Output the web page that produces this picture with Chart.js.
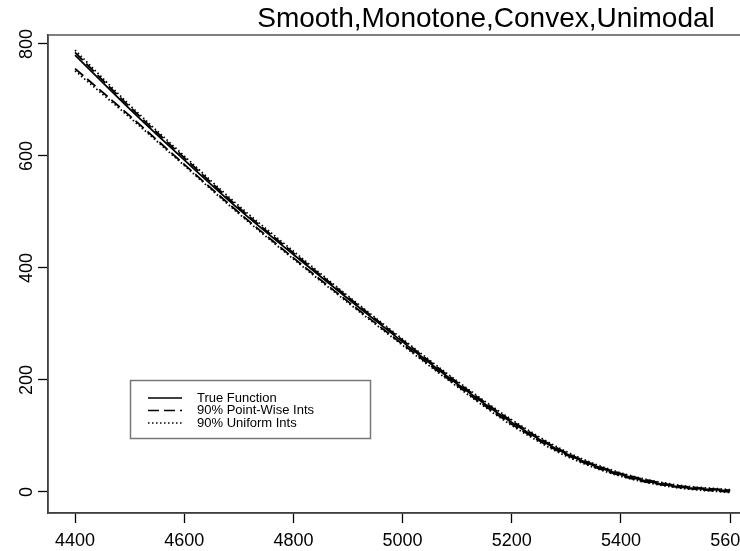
<!DOCTYPE html>
<html>
<head>
<meta charset="utf-8">
<script src="https://cdn.jsdelivr.net/npm/chart.js@4/dist/chart.umd.min.js"></script>
<style>
  html, body { margin: 0; padding: 0; background: #fff; }
  #wrap { width: 740px; height: 551px; position: relative; overflow: hidden; }
</style>
</head>
<body>
<div id="wrap"><canvas id="myChart" width="740" height="551"></canvas></div>
<script>
const chartTitle = "Smooth,Monotone,Convex,Unimodal";
const xValues = [4400, 4500, 4600, 4700, 4800, 4900, 5000, 5100, 5200, 5300, 5400, 5500, 5600];
const trueFunction = [780, 684, 593, 505, 424, 345, 268, 193, 124, 68, 31, 10, 2];
const pointWiseLower = [756, 672, 585, 499, 418, 340, 264, 190, 121, 66, 29, 9, 0];
const pointWiseUpper = [785, 688, 597, 508, 427, 348, 271, 196, 127, 70, 33, 12, 3];
const uniformLower = [752, 669, 583, 497, 416, 338, 262, 188, 119, 64, 28, 8, -1];
const uniformUpper = [789, 691, 600, 511, 430, 350, 273, 198, 129, 72, 34, 13, 4];
const xTicks = [4400, 4600, 4800, 5000, 5200, 5400, 5600];
const yTicks = [0, 200, 400, 600, 800];
const legendLabels = ["True Function", "90% Point-Wise Ints", "90% Uniform Ints"];

const fontFamily = "'Liberation Sans', Arial, sans-serif";
const solid = [];
const dashed = [11, 5];
const dotted = [1.5, 2.5];

function toPoints(values){
  return values.map((v, i) => ({x: xValues[i], y: v}));
}

function lineSet(label, values, dash){
  return {
    label: label,
    data: toPoints(values),
    borderColor: "#000",
    borderWidth: 1.8,
    borderDash: dash,
    pointRadius: 0,
    fill: false,
    cubicInterpolationMode: "monotone"
  };
}

const boxAndTextPlugin = {
  id: "boxAndText",
  afterDraw(chart){
    const ctx = chart.ctx;
    const area = chart.chartArea;
    const yScale = chart.scales.y;

    ctx.save();
    // plot frame
    ctx.strokeStyle = "#555";
    ctx.lineWidth = 1.5;
    ctx.strokeRect(area.left, area.top, area.right - area.left + 20, area.bottom - area.top);

    // title
    ctx.fillStyle = "#000";
    ctx.font = `28px ${fontFamily}`;
    ctx.textAlign = "center";
    ctx.textBaseline = "alphabetic";
    ctx.fillText(chartTitle, 486, 27);

    // y tick labels, rotated like R
    ctx.font = `18px ${fontFamily}`;
    yScale.ticks.forEach(t => {
      const py = yScale.getPixelForValue(t.value);
      ctx.save();
      ctx.translate(32, py);
      ctx.rotate(-Math.PI / 2);
      ctx.textAlign = "center";
      ctx.textBaseline = "alphabetic";
      ctx.fillText(String(t.value), 0, 0);
      ctx.restore();
    });

    // legend
    ctx.strokeStyle = "#777";
    ctx.lineWidth = 1.5;
    ctx.strokeRect(130.5, 380.5, 240, 58);
    const dashes = [solid, dashed, dotted];
    ctx.font = `13px ${fontFamily}`;
    ctx.textAlign = "left";
    ctx.textBaseline = "middle";
    legendLabels.forEach((label, i) => {
      const ly = 398 + i * 12.5;
      ctx.strokeStyle = "#000";
      ctx.lineWidth = 1.3;
      ctx.setLineDash(dashes[i]);
      ctx.beginPath();
      ctx.moveTo(148, ly);
      ctx.lineTo(182, ly);
      ctx.stroke();
      ctx.setLineDash([]);
      ctx.fillStyle = "#000";
      ctx.fillText(label, 197, ly);
    });
    ctx.restore();
  }
};

new Chart(document.getElementById("myChart"), {
  type: "line",
  data: {
    datasets: [
      lineSet(legendLabels[0], trueFunction, solid),
      lineSet(legendLabels[1], pointWiseLower, dashed),
      lineSet(legendLabels[1], pointWiseUpper, dashed),
      lineSet(legendLabels[2], uniformLower, dotted),
      lineSet(legendLabels[2], uniformUpper, dotted)
    ]
  },
  options: {
    responsive: false,
    animation: false,
    layout: { padding: { top: 35, right: 0, left: 0, bottom: 0 } },
    plugins: {
      legend: { display: false },
      title: { display: false },
      tooltip: { enabled: false }
    },
    scales: {
      x: {
        type: "linear",
        min: 4350.5,
        max: 5618,
        afterBuildTicks: scale => { scale.ticks = xTicks.map(v => ({value: v})); },
        afterFit: scale => { scale.height = 38; scale.paddingLeft = 0; scale.paddingRight = 0; },
        grid: { drawOnChartArea: false, tickLength: 10, color: "#000", tickWidth: 1.3 },
        border: { display: true, color: "#000", width: 1.5 },
        ticks: {
          autoSkip: false,
          maxRotation: 0,
          padding: 7,
          color: "#000",
          font: { family: fontFamily, size: 18 },
          callback: v => String(v)
        }
      },
      y: {
        type: "linear",
        min: -37.5,
        max: 816,
        afterBuildTicks: scale => { scale.ticks = yTicks.map(v => ({value: v})); },
        afterFit: scale => { scale.width = 48; scale.paddingTop = 0; scale.paddingBottom = 0; },
        grid: { drawOnChartArea: false, tickLength: 10, color: "#000", tickWidth: 1.3 },
        border: { display: true, color: "#000", width: 1.5 },
        ticks: { display: false }
      }
    }
  },
  plugins: [boxAndTextPlugin]
});
</script>
</body>
</html>
